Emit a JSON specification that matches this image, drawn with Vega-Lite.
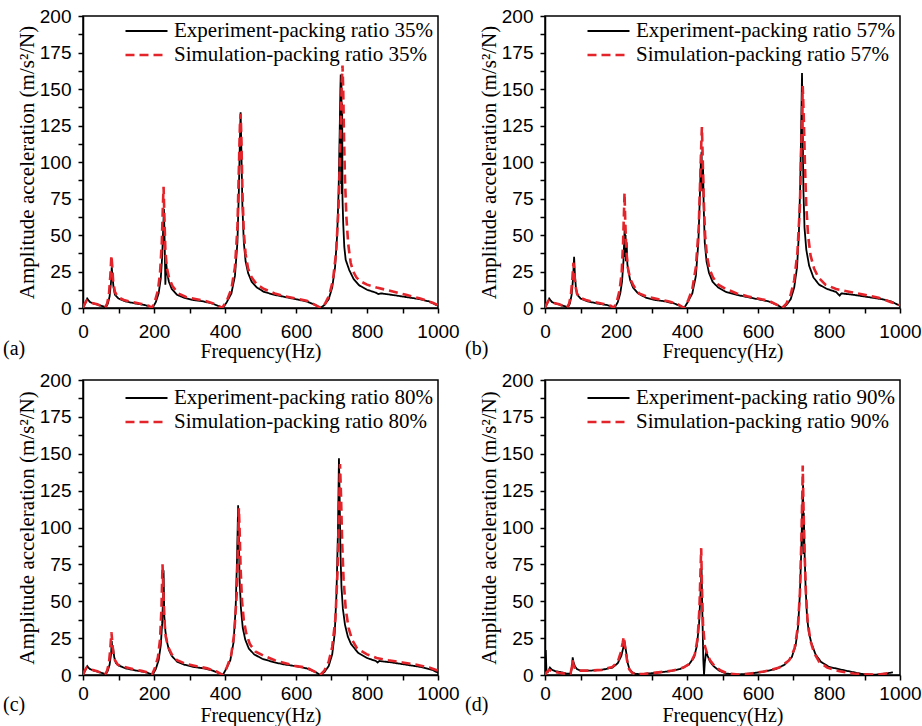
{
  "$schema": "https://vega.github.io/schema/vega-lite/v6.json",
  "background": "white",
  "padding": {"left": 2, "top": 6, "right": 0, "bottom": 0},
  "columns": 2,
  "spacing": {"row": 8, "column": 4},
  "concat": [
    {
      "width": 355, "height": 292,
      "title": {"text": "(a)", "dx": -80, "offset": -22},
      "data": {"values": [
        {"s":"E","f":0,"a":0},{"s":"E","f":4,"a":2},{"s":"E","f":8,"a":4},{"s":"E","f":12,"a":6.5},{"s":"E","f":15,"a":5.5},{"s":"E","f":20,"a":4},{"s":"E","f":30,"a":3},{"s":"E","f":45,"a":2},{"s":"E","f":58,"a":1},{"s":"E","f":64,"a":0.3},{"s":"E","f":70,"a":3},{"s":"E","f":75,"a":8},{"s":"E","f":79,"a":18},{"s":"E","f":81,"a":28},{"s":"E","f":83,"a":22},{"s":"E","f":86,"a":14},{"s":"E","f":90,"a":9},{"s":"E","f":100,"a":6.5},{"s":"E","f":120,"a":4.5},{"s":"E","f":150,"a":3},{"s":"E","f":175,"a":2},{"s":"E","f":190,"a":0.8},{"s":"E","f":196,"a":0},{"s":"E","f":205,"a":4},{"s":"E","f":213,"a":10},{"s":"E","f":219,"a":20},{"s":"E","f":223,"a":35},{"s":"E","f":226,"a":55},{"s":"E","f":228,"a":68},{"s":"E","f":230,"a":45},{"s":"E","f":232,"a":16},{"s":"E","f":234,"a":32},{"s":"E","f":237,"a":24},{"s":"E","f":242,"a":18},{"s":"E","f":250,"a":13},{"s":"E","f":265,"a":9},{"s":"E","f":285,"a":7},{"s":"E","f":310,"a":5.5},{"s":"E","f":340,"a":4.5},{"s":"E","f":365,"a":3},{"s":"E","f":385,"a":1},{"s":"E","f":394,"a":0},{"s":"E","f":405,"a":4},{"s":"E","f":418,"a":10},{"s":"E","f":428,"a":22},{"s":"E","f":435,"a":45},{"s":"E","f":439,"a":80},{"s":"E","f":442,"a":115},{"s":"E","f":444,"a":134},{"s":"E","f":446,"a":110},{"s":"E","f":449,"a":70},{"s":"E","f":453,"a":45},{"s":"E","f":458,"a":32},{"s":"E","f":465,"a":24},{"s":"E","f":475,"a":18},{"s":"E","f":490,"a":14},{"s":"E","f":510,"a":11},{"s":"E","f":540,"a":9},{"s":"E","f":570,"a":7.5},{"s":"E","f":600,"a":6},{"s":"E","f":630,"a":4.5},{"s":"E","f":655,"a":2},{"s":"E","f":668,"a":0},{"s":"E","f":680,"a":2},{"s":"E","f":692,"a":6},{"s":"E","f":702,"a":14},{"s":"E","f":710,"a":28},{"s":"E","f":716,"a":50},{"s":"E","f":720,"a":80},{"s":"E","f":723,"a":120},{"s":"E","f":725,"a":150},{"s":"E","f":726,"a":160},{"s":"E","f":727,"a":85},{"s":"E","f":728,"a":155},{"s":"E","f":729,"a":78},{"s":"E","f":730,"a":140},{"s":"E","f":731,"a":75},{"s":"E","f":733,"a":58},{"s":"E","f":736,"a":42},{"s":"E","f":740,"a":33},{"s":"E","f":750,"a":26},{"s":"E","f":762,"a":20},{"s":"E","f":778,"a":15.5},{"s":"E","f":800,"a":12.5},{"s":"E","f":825,"a":10.5},{"s":"E","f":832,"a":9.5},{"s":"E","f":840,"a":10},{"s":"E","f":870,"a":9},{"s":"E","f":910,"a":7.5},{"s":"E","f":950,"a":6},{"s":"E","f":975,"a":4.5},{"s":"E","f":1000,"a":1.5},
        {"s":"S","f":0,"a":0},{"s":"S","f":5,"a":3},{"s":"S","f":10,"a":5},{"s":"S","f":15,"a":4.5},{"s":"S","f":25,"a":3.5},{"s":"S","f":40,"a":2.5},{"s":"S","f":55,"a":1},{"s":"S","f":62,"a":0.3},{"s":"S","f":68,"a":3},{"s":"S","f":73,"a":9},{"s":"S","f":77,"a":22},{"s":"S","f":80,"a":36},{"s":"S","f":82,"a":30},{"s":"S","f":85,"a":18},{"s":"S","f":90,"a":11},{"s":"S","f":98,"a":7.5},{"s":"S","f":115,"a":5.5},{"s":"S","f":140,"a":4},{"s":"S","f":165,"a":2.8},{"s":"S","f":185,"a":1.5},{"s":"S","f":194,"a":0},{"s":"S","f":203,"a":5},{"s":"S","f":211,"a":12},{"s":"S","f":217,"a":24},{"s":"S","f":222,"a":45},{"s":"S","f":225,"a":70},{"s":"S","f":227,"a":83},{"s":"S","f":229,"a":65},{"s":"S","f":232,"a":40},{"s":"S","f":236,"a":28},{"s":"S","f":242,"a":21},{"s":"S","f":252,"a":15},{"s":"S","f":268,"a":10},{"s":"S","f":290,"a":7.5},{"s":"S","f":320,"a":6},{"s":"S","f":350,"a":4.5},{"s":"S","f":375,"a":2.5},{"s":"S","f":392,"a":0},{"s":"S","f":405,"a":5},{"s":"S","f":418,"a":13},{"s":"S","f":428,"a":28},{"s":"S","f":435,"a":55},{"s":"S","f":439,"a":95},{"s":"S","f":442,"a":125},{"s":"S","f":444,"a":133},{"s":"S","f":446,"a":118},{"s":"S","f":449,"a":80},{"s":"S","f":453,"a":52},{"s":"S","f":458,"a":37},{"s":"S","f":465,"a":27},{"s":"S","f":475,"a":21},{"s":"S","f":490,"a":16},{"s":"S","f":510,"a":13},{"s":"S","f":540,"a":10},{"s":"S","f":570,"a":8},{"s":"S","f":600,"a":6.5},{"s":"S","f":630,"a":5},{"s":"S","f":655,"a":2},{"s":"S","f":670,"a":0},{"s":"S","f":682,"a":3},{"s":"S","f":694,"a":9},{"s":"S","f":704,"a":19},{"s":"S","f":713,"a":38},{"s":"S","f":720,"a":70},{"s":"S","f":725,"a":115},{"s":"S","f":729,"a":155},{"s":"S","f":731,"a":166},{"s":"S","f":733,"a":150},{"s":"S","f":735,"a":120},{"s":"S","f":738,"a":88},{"s":"S","f":742,"a":62},{"s":"S","f":747,"a":44},{"s":"S","f":754,"a":31},{"s":"S","f":761,"a":25},{"s":"S","f":770,"a":21},{"s":"S","f":780,"a":18.5},{"s":"S","f":800,"a":16},{"s":"S","f":827,"a":14},{"s":"S","f":870,"a":11.5},{"s":"S","f":910,"a":9},{"s":"S","f":950,"a":6.5},{"s":"S","f":985,"a":3.6},{"s":"S","f":1000,"a":2}
      ]},
      "mark": {"type": "line", "clip": true},
      "encoding": {
        "x": {"field": "f", "type": "quantitative", "scale": {"domain": [0, 1000], "nice": false}, "axis": {"title": "Frequency(Hz)", "values": [0,100,200,300,400,500,600,700,800,900,1000], "labelExpr": "datum.value % 200 == 0 ? datum.label : ''", "format": "d", "labelPadding": 9, "titlePadding": 0}},
        "y": {"field": "a", "type": "quantitative", "scale": {"domain": [0, 200], "nice": false}, "axis": {"title": "Amplitude acceleration  (m/s²/N)", "values": [0,12.5,25,37.5,50,62.5,75,87.5,100,112.5,125,137.5,150,162.5,175,187.5,200], "labelExpr": "datum.value % 25 == 0 ? datum.label : ''"}},
        "color": {"field": "s", "type": "nominal", "title": null, "scale": {"domain": ["E","S"], "range": ["#000000","#e3242b"]}, "legend": {"orient": "none", "legendX": 41, "legendY": 3, "labelExpr": "datum.label == 'E' ? 'Experiment-packing ratio 35%' : 'Simulation-packing ratio 35%'"}},
        "strokeDash": {"field": "s", "type": "nominal", "title": null, "scale": {"domain": ["E","S"], "range": [[1,0],[9,5]]}, "legend": {"orient": "none", "legendX": 41, "legendY": 3, "labelExpr": "datum.label == 'E' ? 'Experiment-packing ratio 35%' : 'Simulation-packing ratio 35%'"}},
        "strokeWidth": {"field": "s", "type": "ordinal", "scale": {"domain": ["E","S"], "range": [1.8, 2.6]}, "legend": null}
      }
    },
    {
      "width": 355, "height": 292,
      "title": {"text": "(b)", "dx": -80, "offset": -22},
      "data": {"values": [
        {"s":"E","f":0,"a":0},{"s":"E","f":4,"a":2},{"s":"E","f":8,"a":4},{"s":"E","f":12,"a":6.5},{"s":"E","f":15,"a":5.5},{"s":"E","f":20,"a":4},{"s":"E","f":30,"a":3},{"s":"E","f":45,"a":2},{"s":"E","f":58,"a":1},{"s":"E","f":64,"a":0.3},{"s":"E","f":70,"a":3},{"s":"E","f":75,"a":9},{"s":"E","f":79,"a":20},{"s":"E","f":82,"a":35},{"s":"E","f":84,"a":24},{"s":"E","f":87,"a":14},{"s":"E","f":91,"a":9},{"s":"E","f":100,"a":6.5},{"s":"E","f":120,"a":4.5},{"s":"E","f":150,"a":3},{"s":"E","f":175,"a":2},{"s":"E","f":190,"a":0.8},{"s":"E","f":196,"a":0},{"s":"E","f":205,"a":4},{"s":"E","f":212,"a":10},{"s":"E","f":217,"a":18},{"s":"E","f":221,"a":32},{"s":"E","f":224,"a":52},{"s":"E","f":225,"a":57},{"s":"E","f":226,"a":35},{"s":"E","f":227,"a":50},{"s":"E","f":228,"a":32},{"s":"E","f":230,"a":45},{"s":"E","f":232,"a":30},{"s":"E","f":235,"a":25},{"s":"E","f":240,"a":19},{"s":"E","f":248,"a":14},{"s":"E","f":262,"a":10},{"s":"E","f":285,"a":7},{"s":"E","f":310,"a":5.5},{"s":"E","f":340,"a":4.5},{"s":"E","f":365,"a":3},{"s":"E","f":385,"a":1},{"s":"E","f":392,"a":0},{"s":"E","f":402,"a":4},{"s":"E","f":415,"a":10},{"s":"E","f":425,"a":22},{"s":"E","f":432,"a":45},{"s":"E","f":436,"a":75},{"s":"E","f":439,"a":100},{"s":"E","f":441,"a":107},{"s":"E","f":443,"a":80},{"s":"E","f":445,"a":100},{"s":"E","f":447,"a":70},{"s":"E","f":450,"a":45},{"s":"E","f":455,"a":32},{"s":"E","f":462,"a":24},{"s":"E","f":472,"a":18},{"s":"E","f":488,"a":14},{"s":"E","f":510,"a":11},{"s":"E","f":540,"a":9},{"s":"E","f":570,"a":7.5},{"s":"E","f":600,"a":6},{"s":"E","f":630,"a":4.5},{"s":"E","f":655,"a":2},{"s":"E","f":668,"a":0},{"s":"E","f":680,"a":2},{"s":"E","f":692,"a":6},{"s":"E","f":702,"a":14},{"s":"E","f":710,"a":28},{"s":"E","f":715,"a":50},{"s":"E","f":719,"a":85},{"s":"E","f":722,"a":130},{"s":"E","f":724,"a":161},{"s":"E","f":726,"a":120},{"s":"E","f":728,"a":80},{"s":"E","f":731,"a":55},{"s":"E","f":736,"a":40},{"s":"E","f":744,"a":29},{"s":"E","f":756,"a":21},{"s":"E","f":772,"a":16},{"s":"E","f":795,"a":13},{"s":"E","f":820,"a":11},{"s":"E","f":830,"a":8.5},{"s":"E","f":835,"a":10},{"s":"E","f":870,"a":9},{"s":"E","f":910,"a":7.5},{"s":"E","f":950,"a":6},{"s":"E","f":975,"a":4.5},{"s":"E","f":1000,"a":1.5},
        {"s":"S","f":0,"a":0},{"s":"S","f":5,"a":3},{"s":"S","f":10,"a":5},{"s":"S","f":15,"a":4.5},{"s":"S","f":25,"a":3.5},{"s":"S","f":40,"a":2.5},{"s":"S","f":55,"a":1},{"s":"S","f":62,"a":0.3},{"s":"S","f":68,"a":3},{"s":"S","f":73,"a":9},{"s":"S","f":77,"a":20},{"s":"S","f":80,"a":31},{"s":"S","f":82,"a":26},{"s":"S","f":85,"a":16},{"s":"S","f":90,"a":10},{"s":"S","f":98,"a":7},{"s":"S","f":115,"a":5.5},{"s":"S","f":140,"a":4},{"s":"S","f":165,"a":2.8},{"s":"S","f":185,"a":1.5},{"s":"S","f":194,"a":0},{"s":"S","f":203,"a":5},{"s":"S","f":210,"a":12},{"s":"S","f":216,"a":24},{"s":"S","f":220,"a":45},{"s":"S","f":223,"a":70},{"s":"S","f":224,"a":79},{"s":"S","f":226,"a":60},{"s":"S","f":229,"a":40},{"s":"S","f":233,"a":28},{"s":"S","f":240,"a":20},{"s":"S","f":250,"a":15},{"s":"S","f":265,"a":10},{"s":"S","f":290,"a":7.5},{"s":"S","f":320,"a":6},{"s":"S","f":350,"a":4.5},{"s":"S","f":375,"a":2.5},{"s":"S","f":392,"a":0},{"s":"S","f":403,"a":5},{"s":"S","f":415,"a":13},{"s":"S","f":425,"a":28},{"s":"S","f":433,"a":55},{"s":"S","f":438,"a":95},{"s":"S","f":441,"a":118},{"s":"S","f":442,"a":124},{"s":"S","f":444,"a":105},{"s":"S","f":447,"a":75},{"s":"S","f":451,"a":50},{"s":"S","f":456,"a":36},{"s":"S","f":463,"a":27},{"s":"S","f":473,"a":21},{"s":"S","f":488,"a":16},{"s":"S","f":510,"a":13},{"s":"S","f":540,"a":10},{"s":"S","f":570,"a":8},{"s":"S","f":600,"a":6.5},{"s":"S","f":630,"a":5},{"s":"S","f":655,"a":2},{"s":"S","f":668,"a":0},{"s":"S","f":680,"a":3},{"s":"S","f":692,"a":9},{"s":"S","f":702,"a":19},{"s":"S","f":711,"a":38},{"s":"S","f":718,"a":70},{"s":"S","f":723,"a":120},{"s":"S","f":726,"a":152},{"s":"S","f":729,"a":130},{"s":"S","f":732,"a":100},{"s":"S","f":736,"a":70},{"s":"S","f":741,"a":50},{"s":"S","f":748,"a":36},{"s":"S","f":758,"a":27},{"s":"S","f":770,"a":21},{"s":"S","f":790,"a":16},{"s":"S","f":820,"a":13},{"s":"S","f":860,"a":11},{"s":"S","f":900,"a":9},{"s":"S","f":940,"a":7},{"s":"S","f":975,"a":4},{"s":"S","f":1000,"a":2}
      ]},
      "mark": {"type": "line", "clip": true},
      "encoding": {
        "x": {"field": "f", "type": "quantitative", "scale": {"domain": [0, 1000], "nice": false}, "axis": {"title": "Frequency(Hz)", "values": [0,100,200,300,400,500,600,700,800,900,1000], "labelExpr": "datum.value % 200 == 0 ? datum.label : ''", "format": "d", "labelPadding": 9, "titlePadding": 0}},
        "y": {"field": "a", "type": "quantitative", "scale": {"domain": [0, 200], "nice": false}, "axis": {"title": "Amplitude acceleration  (m/s²/N)", "values": [0,12.5,25,37.5,50,62.5,75,87.5,100,112.5,125,137.5,150,162.5,175,187.5,200], "labelExpr": "datum.value % 25 == 0 ? datum.label : ''"}},
        "color": {"field": "s", "type": "nominal", "title": null, "scale": {"domain": ["E","S"], "range": ["#000000","#e3242b"]}, "legend": {"orient": "none", "legendX": 41, "legendY": 3, "labelExpr": "datum.label == 'E' ? 'Experiment-packing ratio 57%' : 'Simulation-packing ratio 57%'"}},
        "strokeDash": {"field": "s", "type": "nominal", "title": null, "scale": {"domain": ["E","S"], "range": [[1,0],[9,5]]}, "legend": {"orient": "none", "legendX": 41, "legendY": 3, "labelExpr": "datum.label == 'E' ? 'Experiment-packing ratio 57%' : 'Simulation-packing ratio 57%'"}},
        "strokeWidth": {"field": "s", "type": "ordinal", "scale": {"domain": ["E","S"], "range": [1.8, 2.6]}, "legend": null}
      }
    },
    {
      "width": 355, "height": 295,
      "title": {"text": "(c)", "dx": -80, "offset": -30},
      "data": {"values": [
        {"s":"E","f":0,"a":0},{"s":"E","f":4,"a":2},{"s":"E","f":8,"a":4},{"s":"E","f":12,"a":6},{"s":"E","f":15,"a":5},{"s":"E","f":20,"a":4},{"s":"E","f":30,"a":3},{"s":"E","f":45,"a":2},{"s":"E","f":58,"a":1},{"s":"E","f":64,"a":0.3},{"s":"E","f":70,"a":3},{"s":"E","f":75,"a":7},{"s":"E","f":79,"a":14},{"s":"E","f":81,"a":23},{"s":"E","f":83,"a":15},{"s":"E","f":85,"a":18},{"s":"E","f":88,"a":12},{"s":"E","f":93,"a":8},{"s":"E","f":100,"a":6.5},{"s":"E","f":120,"a":4.5},{"s":"E","f":150,"a":3},{"s":"E","f":175,"a":2},{"s":"E","f":190,"a":0.8},{"s":"E","f":196,"a":0},{"s":"E","f":205,"a":4},{"s":"E","f":213,"a":10},{"s":"E","f":219,"a":20},{"s":"E","f":223,"a":35},{"s":"E","f":226,"a":55},{"s":"E","f":227,"a":71},{"s":"E","f":229,"a":40},{"s":"E","f":232,"a":30},{"s":"E","f":236,"a":23},{"s":"E","f":242,"a":17},{"s":"E","f":250,"a":13},{"s":"E","f":265,"a":9},{"s":"E","f":285,"a":7},{"s":"E","f":310,"a":5.5},{"s":"E","f":340,"a":4.5},{"s":"E","f":365,"a":3},{"s":"E","f":385,"a":1},{"s":"E","f":394,"a":0},{"s":"E","f":403,"a":4},{"s":"E","f":415,"a":10},{"s":"E","f":424,"a":22},{"s":"E","f":430,"a":45},{"s":"E","f":434,"a":80},{"s":"E","f":437,"a":115},{"s":"E","f":439,"a":95},{"s":"E","f":441,"a":65},{"s":"E","f":445,"a":45},{"s":"E","f":450,"a":32},{"s":"E","f":457,"a":24},{"s":"E","f":467,"a":18},{"s":"E","f":482,"a":14},{"s":"E","f":505,"a":11},{"s":"E","f":540,"a":8.5},{"s":"E","f":570,"a":7},{"s":"E","f":600,"a":6},{"s":"E","f":630,"a":4.5},{"s":"E","f":655,"a":2},{"s":"E","f":668,"a":0},{"s":"E","f":680,"a":2},{"s":"E","f":692,"a":6},{"s":"E","f":702,"a":14},{"s":"E","f":709,"a":28},{"s":"E","f":714,"a":55},{"s":"E","f":718,"a":95},{"s":"E","f":721,"a":147},{"s":"E","f":723,"a":120},{"s":"E","f":725,"a":85},{"s":"E","f":728,"a":60},{"s":"E","f":732,"a":45},{"s":"E","f":738,"a":34},{"s":"E","f":746,"a":26},{"s":"E","f":755,"a":21},{"s":"E","f":775,"a":15},{"s":"E","f":800,"a":11.5},{"s":"E","f":825,"a":9.5},{"s":"E","f":830,"a":8.5},{"s":"E","f":835,"a":9.5},{"s":"E","f":870,"a":8.5},{"s":"E","f":910,"a":7},{"s":"E","f":950,"a":5.5},{"s":"E","f":985,"a":3.4},{"s":"E","f":1000,"a":1.5},
        {"s":"S","f":0,"a":0},{"s":"S","f":5,"a":3},{"s":"S","f":10,"a":5},{"s":"S","f":15,"a":4.5},{"s":"S","f":25,"a":3.5},{"s":"S","f":40,"a":2.5},{"s":"S","f":55,"a":1},{"s":"S","f":62,"a":0.3},{"s":"S","f":68,"a":3},{"s":"S","f":73,"a":8},{"s":"S","f":77,"a":18},{"s":"S","f":80,"a":29},{"s":"S","f":82,"a":24},{"s":"S","f":85,"a":15},{"s":"S","f":90,"a":10},{"s":"S","f":98,"a":7},{"s":"S","f":115,"a":5.5},{"s":"S","f":140,"a":4},{"s":"S","f":165,"a":2.8},{"s":"S","f":185,"a":1.5},{"s":"S","f":194,"a":0},{"s":"S","f":203,"a":5},{"s":"S","f":211,"a":12},{"s":"S","f":217,"a":24},{"s":"S","f":221,"a":45},{"s":"S","f":223,"a":65},{"s":"S","f":224,"a":75},{"s":"S","f":226,"a":60},{"s":"S","f":229,"a":38},{"s":"S","f":233,"a":26},{"s":"S","f":240,"a":19},{"s":"S","f":250,"a":14},{"s":"S","f":265,"a":10},{"s":"S","f":290,"a":7.5},{"s":"S","f":320,"a":6},{"s":"S","f":350,"a":4.5},{"s":"S","f":375,"a":2.5},{"s":"S","f":393,"a":0},{"s":"S","f":405,"a":5},{"s":"S","f":417,"a":13},{"s":"S","f":426,"a":28},{"s":"S","f":433,"a":55},{"s":"S","f":437,"a":90},{"s":"S","f":439,"a":113},{"s":"S","f":441,"a":100},{"s":"S","f":444,"a":72},{"s":"S","f":448,"a":50},{"s":"S","f":453,"a":37},{"s":"S","f":460,"a":28},{"s":"S","f":470,"a":21},{"s":"S","f":485,"a":16},{"s":"S","f":510,"a":13},{"s":"S","f":540,"a":10},{"s":"S","f":570,"a":8},{"s":"S","f":600,"a":6},{"s":"S","f":630,"a":5},{"s":"S","f":655,"a":2},{"s":"S","f":668,"a":0},{"s":"S","f":680,"a":3},{"s":"S","f":692,"a":9},{"s":"S","f":702,"a":19},{"s":"S","f":711,"a":38},{"s":"S","f":717,"a":70},{"s":"S","f":721,"a":110},{"s":"S","f":724,"a":143},{"s":"S","f":727,"a":120},{"s":"S","f":730,"a":90},{"s":"S","f":734,"a":65},{"s":"S","f":740,"a":45},{"s":"S","f":748,"a":32},{"s":"S","f":758,"a":24},{"s":"S","f":772,"a":18},{"s":"S","f":800,"a":14},{"s":"S","f":827,"a":11.5},{"s":"S","f":860,"a":10},{"s":"S","f":900,"a":8.5},{"s":"S","f":940,"a":7},{"s":"S","f":975,"a":5},{"s":"S","f":1000,"a":3}
      ]},
      "mark": {"type": "line", "clip": true},
      "encoding": {
        "x": {"field": "f", "type": "quantitative", "scale": {"domain": [0, 1000], "nice": false}, "axis": {"title": "Frequency(Hz)", "values": [0,100,200,300,400,500,600,700,800,900,1000], "labelExpr": "datum.value % 200 == 0 ? datum.label : ''", "format": "d", "labelPadding": 4, "titlePadding": 2}},
        "y": {"field": "a", "type": "quantitative", "scale": {"domain": [0, 200], "nice": false}, "axis": {"title": "Amplitude acceleration  (m/s²/N)", "values": [0,12.5,25,37.5,50,62.5,75,87.5,100,112.5,125,137.5,150,162.5,175,187.5,200], "labelExpr": "datum.value % 25 == 0 ? datum.label : ''"}},
        "color": {"field": "s", "type": "nominal", "title": null, "scale": {"domain": ["E","S"], "range": ["#000000","#e3242b"]}, "legend": {"orient": "none", "legendX": 41, "legendY": 6, "labelExpr": "datum.label == 'E' ? 'Experiment-packing ratio 80%' : 'Simulation-packing ratio 80%'"}},
        "strokeDash": {"field": "s", "type": "nominal", "title": null, "scale": {"domain": ["E","S"], "range": [[1,0],[9,5]]}, "legend": {"orient": "none", "legendX": 41, "legendY": 6, "labelExpr": "datum.label == 'E' ? 'Experiment-packing ratio 80%' : 'Simulation-packing ratio 80%'"}},
        "strokeWidth": {"field": "s", "type": "ordinal", "scale": {"domain": ["E","S"], "range": [1.8, 2.6]}, "legend": null}
      }
    },
    {
      "width": 355, "height": 295,
      "title": {"text": "(d)", "dx": -80, "offset": -30},
      "data": {"values": [
        {"s":"E","f":0,"a":0},{"s":"E","f":2,"a":17},{"s":"E","f":4,"a":3},{"s":"E","f":8,"a":2},{"s":"E","f":14,"a":5},{"s":"E","f":20,"a":3.5},{"s":"E","f":30,"a":2.5},{"s":"E","f":45,"a":2},{"s":"E","f":60,"a":1},{"s":"E","f":72,"a":1},{"s":"E","f":76,"a":5},{"s":"E","f":78,"a":12},{"s":"E","f":80,"a":9},{"s":"E","f":84,"a":6},{"s":"E","f":90,"a":4},{"s":"E","f":100,"a":3},{"s":"E","f":130,"a":3},{"s":"E","f":160,"a":3.5},{"s":"E","f":190,"a":5},{"s":"E","f":205,"a":8},{"s":"E","f":215,"a":13},{"s":"E","f":221,"a":19},{"s":"E","f":225,"a":21},{"s":"E","f":229,"a":15},{"s":"E","f":233,"a":8},{"s":"E","f":238,"a":4},{"s":"E","f":245,"a":2},{"s":"E","f":255,"a":0.8},{"s":"E","f":270,"a":0.5},{"s":"E","f":300,"a":1.2},{"s":"E","f":350,"a":2.5},{"s":"E","f":380,"a":4},{"s":"E","f":405,"a":7},{"s":"E","f":420,"a":12},{"s":"E","f":428,"a":20},{"s":"E","f":434,"a":35},{"s":"E","f":438,"a":55},{"s":"E","f":441,"a":72},{"s":"E","f":443,"a":45},{"s":"E","f":446,"a":10},{"s":"E","f":448,"a":0},{"s":"E","f":450,"a":8},{"s":"E","f":454,"a":16},{"s":"E","f":458,"a":13},{"s":"E","f":465,"a":9},{"s":"E","f":475,"a":6},{"s":"E","f":490,"a":3},{"s":"E","f":510,"a":1},{"s":"E","f":540,"a":0.3},{"s":"E","f":570,"a":0.8},{"s":"E","f":610,"a":2},{"s":"E","f":650,"a":4},{"s":"E","f":675,"a":7},{"s":"E","f":695,"a":12},{"s":"E","f":706,"a":20},{"s":"E","f":713,"a":33},{"s":"E","f":718,"a":55},{"s":"E","f":722,"a":85},{"s":"E","f":725,"a":115},{"s":"E","f":727,"a":129},{"s":"E","f":728,"a":82},{"s":"E","f":729,"a":110},{"s":"E","f":731,"a":85},{"s":"E","f":734,"a":60},{"s":"E","f":738,"a":40},{"s":"E","f":743,"a":29},{"s":"E","f":750,"a":22},{"s":"E","f":762,"a":14},{"s":"E","f":777,"a":9},{"s":"E","f":800,"a":5.5},{"s":"E","f":846,"a":3},{"s":"E","f":893,"a":0.7},{"s":"E","f":930,"a":0.2},{"s":"E","f":960,"a":1},{"s":"E","f":980,"a":1.8},
        {"s":"S","f":0,"a":0},{"s":"S","f":5,"a":2},{"s":"S","f":12,"a":3.5},{"s":"S","f":20,"a":2.5},{"s":"S","f":40,"a":1.5},{"s":"S","f":60,"a":0.8},{"s":"S","f":72,"a":1},{"s":"S","f":76,"a":6},{"s":"S","f":78,"a":10},{"s":"S","f":80,"a":7},{"s":"S","f":85,"a":4},{"s":"S","f":95,"a":3},{"s":"S","f":130,"a":3},{"s":"S","f":160,"a":3.5},{"s":"S","f":190,"a":5.5},{"s":"S","f":205,"a":9},{"s":"S","f":213,"a":15},{"s":"S","f":219,"a":22},{"s":"S","f":222,"a":26},{"s":"S","f":226,"a":18},{"s":"S","f":231,"a":10},{"s":"S","f":237,"a":4},{"s":"S","f":245,"a":1.5},{"s":"S","f":255,"a":0.5},{"s":"S","f":280,"a":0.8},{"s":"S","f":320,"a":1.8},{"s":"S","f":360,"a":3},{"s":"S","f":390,"a":5},{"s":"S","f":410,"a":8},{"s":"S","f":422,"a":14},{"s":"S","f":430,"a":25},{"s":"S","f":435,"a":45},{"s":"S","f":438,"a":70},{"s":"S","f":440,"a":86},{"s":"S","f":442,"a":60},{"s":"S","f":445,"a":35},{"s":"S","f":450,"a":20},{"s":"S","f":456,"a":15},{"s":"S","f":465,"a":10},{"s":"S","f":478,"a":6},{"s":"S","f":495,"a":3},{"s":"S","f":515,"a":1},{"s":"S","f":545,"a":0.3},{"s":"S","f":580,"a":1},{"s":"S","f":620,"a":2.5},{"s":"S","f":660,"a":5},{"s":"S","f":688,"a":10},{"s":"S","f":703,"a":18},{"s":"S","f":712,"a":32},{"s":"S","f":718,"a":55},{"s":"S","f":722,"a":90},{"s":"S","f":725,"a":125},{"s":"S","f":726,"a":142},{"s":"S","f":728,"a":115},{"s":"S","f":731,"a":85},{"s":"S","f":735,"a":55},{"s":"S","f":740,"a":36},{"s":"S","f":748,"a":23},{"s":"S","f":758,"a":15},{"s":"S","f":772,"a":9},{"s":"S","f":795,"a":5},{"s":"S","f":830,"a":2.5},{"s":"S","f":870,"a":1},{"s":"S","f":910,"a":0.4},{"s":"S","f":940,"a":0.3},{"s":"S","f":960,"a":1},{"s":"S","f":975,"a":2}
      ]},
      "mark": {"type": "line", "clip": true},
      "encoding": {
        "x": {"field": "f", "type": "quantitative", "scale": {"domain": [0, 1000], "nice": false}, "axis": {"title": "Frequency(Hz)", "values": [0,100,200,300,400,500,600,700,800,900,1000], "labelExpr": "datum.value % 200 == 0 ? datum.label : ''", "format": "d", "labelPadding": 4, "titlePadding": 2}},
        "y": {"field": "a", "type": "quantitative", "scale": {"domain": [0, 200], "nice": false}, "axis": {"title": "Amplitude acceleration  (m/s²/N)", "values": [0,12.5,25,37.5,50,62.5,75,87.5,100,112.5,125,137.5,150,162.5,175,187.5,200], "labelExpr": "datum.value % 25 == 0 ? datum.label : ''"}},
        "color": {"field": "s", "type": "nominal", "title": null, "scale": {"domain": ["E","S"], "range": ["#000000","#e3242b"]}, "legend": {"orient": "none", "legendX": 41, "legendY": 6, "labelExpr": "datum.label == 'E' ? 'Experiment-packing ratio 90%' : 'Simulation-packing ratio 90%'"}},
        "strokeDash": {"field": "s", "type": "nominal", "title": null, "scale": {"domain": ["E","S"], "range": [[1,0],[9,5]]}, "legend": {"orient": "none", "legendX": 41, "legendY": 6, "labelExpr": "datum.label == 'E' ? 'Experiment-packing ratio 90%' : 'Simulation-packing ratio 90%'"}},
        "strokeWidth": {"field": "s", "type": "ordinal", "scale": {"domain": ["E","S"], "range": [1.8, 2.6]}, "legend": null}
      }
    }
  ],
  "resolve": {
    "scale": {"color": "independent", "strokeDash": "independent", "strokeWidth": "independent"},
    "legend": {"color": "independent", "strokeDash": "independent"}
  },
  "config": {
    "font": "Liberation Serif",
    "view": {"stroke": "black", "strokeWidth": 1.5},
    "axis": {"domainColor": "black", "domainWidth": 1.5, "tickColor": "black", "tickWidth": 1.5, "tickSize": 5, "labelFont": "Liberation Sans", "labelFontSize": 19, "labelColor": "black", "labelFlush": false, "labelOverlap": false, "grid": false, "titleFont": "Liberation Serif", "titleFontSize": 20, "titleFontWeight": "normal", "titleColor": "black"},
    "axisY": {"labelPadding": 7, "titlePadding": 2, "titleFontSize": 21},
    "legend": {"symbolType": "stroke", "symbolSize": 1764, "symbolStrokeWidth": 2.2, "labelFont": "Liberation Serif", "labelFontSize": 21, "labelColor": "black", "labelOffset": 5, "clipHeight": 24, "rowPadding": 0, "padding": 0, "labelLimit": 400},
    "title": {"font": "Liberation Serif", "fontSize": 20, "fontWeight": "normal", "color": "black", "orient": "bottom", "anchor": "start", "frame": "group"}
  }
}
